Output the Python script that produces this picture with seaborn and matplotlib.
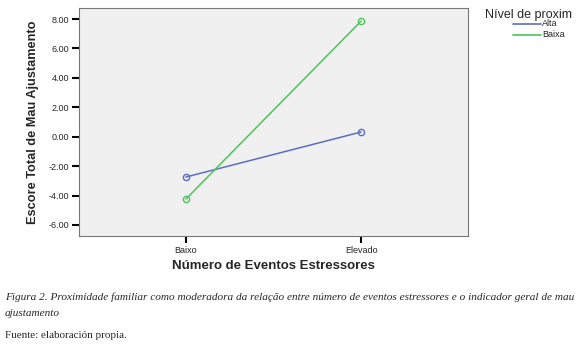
import matplotlib
matplotlib.use("Agg")
import matplotlib.pyplot as plt
import seaborn as sns
import pandas as pd

categories = ["Baixo", "Elevado"]
alta = [-2.74, 0.32]
baixa = [-4.24, 7.86]
series_names = ["Alta", "Baixa"]
yticks = [8, 6, 4, 2, 0, -2, -4, -6]

df = pd.DataFrame({
    "x": list(range(len(categories))) * 2,
    "y": alta + baixa,
    "grupo": [series_names[0]] * 2 + [series_names[1]] * 2,
})

sns.set_style("white")
plt.rcParams['font.family'] = ['Liberation Sans', 'DejaVu Sans']

fig = plt.figure(figsize=(5.8, 3.49), dpi=100)
ax = fig.add_axes([79/580, 1-236/349, (468-79)/580, (236-8)/349])
ax.set_facecolor("#f0f0f0")
palette = {"Alta": "#5b6fc0", "Baixa": "#4cc45a"}
sns.lineplot(data=df, x="x", y="y", hue="grupo", palette=palette, marker="o",
             markersize=4.5, markerfacecolor="none", markeredgewidth=1.0,
             linewidth=1.1, ax=ax, legend=False)
for line, name in zip(ax.get_lines(), series_names):
    line.set_markeredgecolor(palette[name])

ax.set_xlim(-0.61, 1.61)
ax.set_ylim(-6.75, 8.75)
ax.set_xticks(range(len(categories)))
ax.set_xticklabels(categories, fontsize=6.5)
ax.set_yticks(yticks)
ax.set_yticklabels([f"{v:.2f}" for v in yticks], fontsize=6.5)
ax.tick_params(axis="both", direction="out", length=5, width=1.5, color="black", pad=2)
ax.tick_params(axis="both", left=True, bottom=True)
for s in ax.spines.values():
    s.set_color("#777777")
    s.set_linewidth(0.8)
ax.set_xlabel("Número de Eventos Estressores", fontsize=9.5, fontweight="bold", labelpad=4)
ax.set_ylabel("Escore Total de Mau Ajustamento", fontsize=9.2, fontweight="bold", labelpad=7)

# legend (manual, SPSS style)
fig.text(485/580, 1-15/349, "Nível de proxim", fontsize=9, va="center", ha="left")
for i, name in enumerate(series_names):
    yy = 1 - (24 + 10.5*i)/349
    fig.add_artist(plt.Line2D([513/580, 541/580], [yy, yy], color=palette[name], lw=1.2))
    fig.text(542/580, yy, name, fontsize=6.5, va="center", ha="left")

cap_font = ['Liberation Serif', 'DejaVu Serif']
fig.text(5/580, 1-297/349,
         "Figura 2. Proximidade familiar como moderadora da relação entre número de eventos estressores e o indicador geral de mau",
         fontsize=8.1, style="italic", family=cap_font, va="center", ha="left")
fig.text(5/580, 1-313/349, "ajustamento", fontsize=8.1, style="italic", family=cap_font, va="center", ha="left")
fig.text(5/580, 1-336/349, "Fuente: elaboración propia.", fontsize=8.0, family=cap_font, va="center", ha="left")

fig.savefig("out.png", dpi=100)
